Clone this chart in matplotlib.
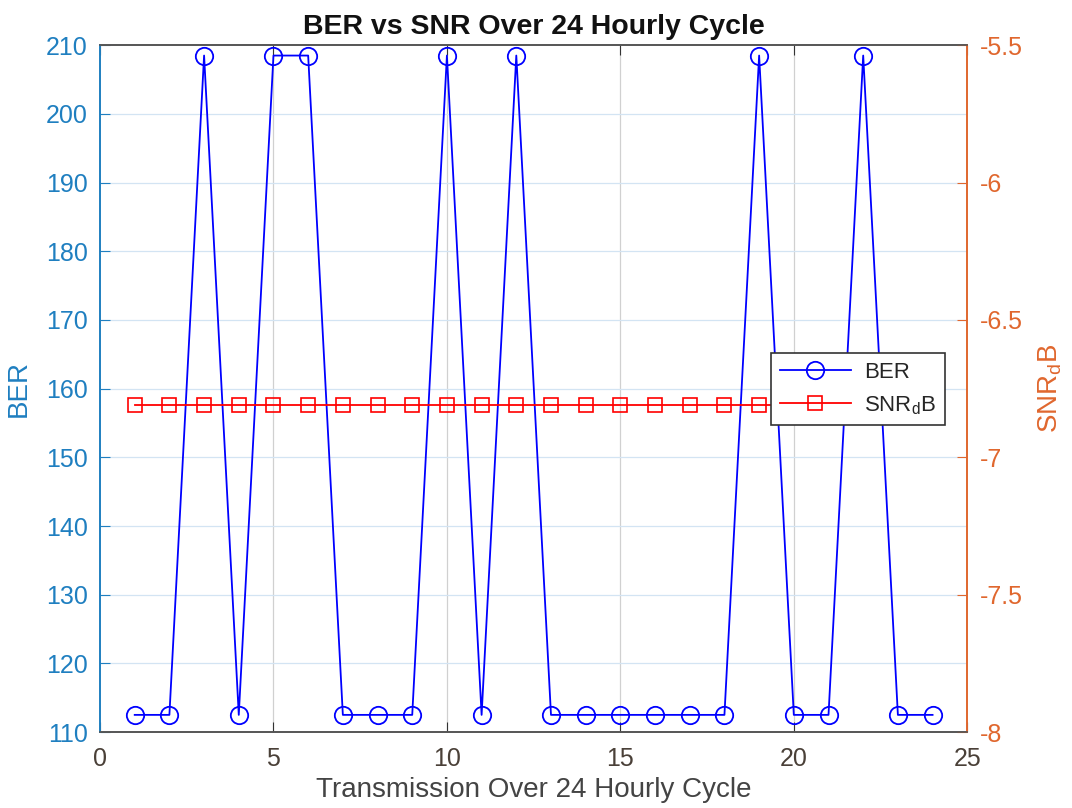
import matplotlib
matplotlib.use("Agg")
import matplotlib.pyplot as plt
from matplotlib.lines import Line2D

plt.rcParams['font.family'] = ['Liberation Sans', 'DejaVu Sans']

hours = list(range(1, 25))
ber = [112.5, 112.5, 208.5, 112.5, 208.5, 208.5, 112.5, 112.5, 112.5, 208.5,
       112.5, 208.5, 112.5, 112.5, 112.5, 112.5, 112.5, 112.5, 208.5, 112.5,
       112.5, 208.5, 112.5, 112.5]
snr_db = [-6.81] * 24
left_ticks = [110, 120, 130, 140, 150, 160, 170, 180, 190, 200, 210]
right_ticks = [-8, -7.5, -7, -6.5, -6, -5.5]
x_ticks = [0, 5, 10, 15, 20, 25]

LEFT_C = '#1f7fc0'
RIGHT_C = '#e0672e'
DARK = '#262626'

fig = plt.figure(figsize=(10.72, 8.08), dpi=100)
ax = fig.add_axes([0.0933, 0.094, 0.809, 0.850])
ax2 = ax.twinx()

ax.set_xlim(0, 25)
ax.set_ylim(110, 210)
ax2.set_ylim(-8, -5.5)
ax.set_xticks(x_ticks)
ax.set_yticks(left_ticks)
ax2.set_yticks(right_ticks)
ax2.set_yticklabels(['-8', '-7.5', '-7', '-6.5', '-6', '-5.5'])

# grid
for xv in x_ticks[1:-1]:
    ax.axvline(xv, color='#d0d0d0', lw=0.9, zorder=0)
for yv in left_ticks[1:-1]:
    ax.axhline(yv, color='#d3e4f3', lw=0.9, zorder=0)

l1, = ax.plot(hours, ber, color='#0000ff', lw=1.3, marker='o', ms=12.5,
              mfc='none', mec='#0000ff', mew=1.3, zorder=3)
l2, = ax2.plot(hours, snr_db, color='#ff0000', lw=1.3, marker='s', ms=10,
               mfc='none', mec='#ff0000', mew=1.2, zorder=3)

ax.tick_params(axis='y', colors=LEFT_C, labelsize=18, direction='in', length=7, pad=9)
ax.tick_params(axis='x', colors='#333333', labelsize=18, direction='in', length=7, pad=11,
               labelcolor='#4a4038', top=True)
ax2.tick_params(axis='y', colors=RIGHT_C, labelsize=18, direction='in', length=7, pad=9)

for a in (ax, ax2):
    a.spines['top'].set_color('#555555')
    a.spines['bottom'].set_color('#555555')
    a.spines['left'].set_color(LEFT_C)
    a.spines['right'].set_color(RIGHT_C)
    for s in a.spines.values():
        s.set_linewidth(1.2)

ax.set_ylabel('BER', color=LEFT_C, fontsize=20, labelpad=10)
ax2.set_ylabel('SNR$_\\mathregular{d}$B', color=RIGHT_C, fontsize=20, labelpad=10)
ax.set_xlabel('Transmission Over 24 Hourly Cycle', color='#444444', fontsize=20, labelpad=4)
ax.set_title('BER vs SNR Over 24 Hourly Cycle', fontsize=20.5, fontweight='bold', color='#111111', pad=8)

leg = ax2.legend([l1, l2], ['BER', 'SNR$_\\mathregular{d}$B'], loc='upper left',
                 bbox_to_anchor=(0.7735, 0.552), fontsize=16, frameon=True,
                 fancybox=False, edgecolor='#333333', framealpha=1,
                 handlelength=3.2, handletextpad=0.6, borderpad=0.4, labelspacing=0.5,
                 borderaxespad=0)
leg.get_frame().set_linewidth(1.2)
leg.set_zorder(10)
for t in leg.get_texts():
    t.set_color(DARK)

fig.savefig('out.png', dpi=100)
